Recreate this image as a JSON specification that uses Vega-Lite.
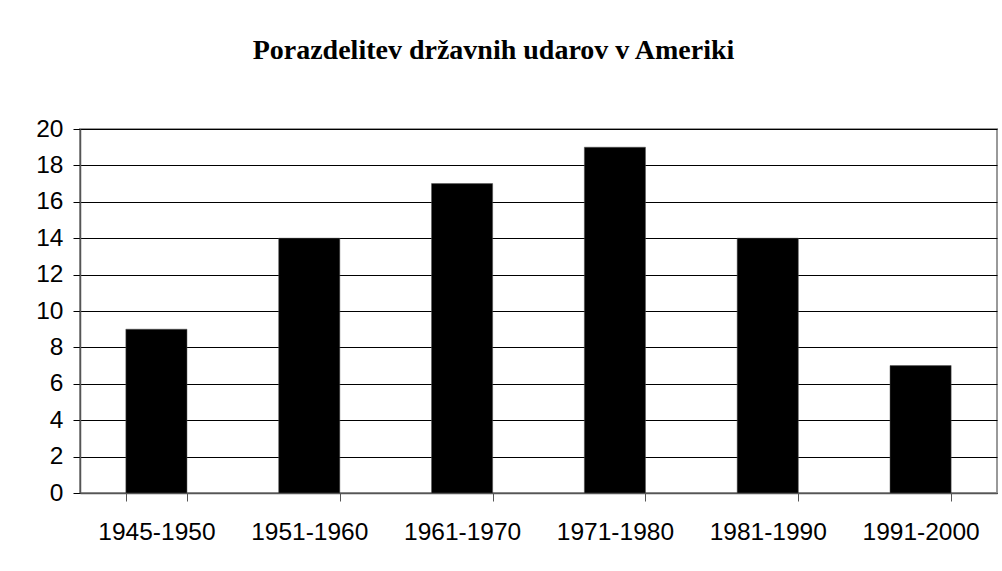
{
  "$schema": "https://vega.github.io/schema/vega-lite/v6.json",
  "width": 917,
  "height": 364,
  "autosize": {"type": "none"},
  "padding": {"left": 80, "top": 129, "right": 5, "bottom": 78},
  "background": "white",
  "title": {
    "text": "Porazdelitev državnih udarov v Ameriki",
    "font": "Liberation Serif",
    "fontSize": 28,
    "fontWeight": "bold",
    "color": "black",
    "anchor": "middle",
    "frame": "group",
    "baseline": "alphabetic",
    "offset": 29,
    "dx": -45
  },
  "data": {
    "values": [
      {"period": "1945-1950", "count": 9},
      {"period": "1951-1960", "count": 14},
      {"period": "1961-1970", "count": 17},
      {"period": "1971-1980", "count": 19},
      {"period": "1981-1990", "count": 14},
      {"period": "1991-2000", "count": 7}
    ]
  },
  "mark": {"type": "bar", "color": "black", "stroke": "#555555", "strokeWidth": 0.5},
  "encoding": {
    "x": {
      "field": "period",
      "type": "nominal",
      "sort": null,
      "scale": {"paddingInner": 0.6, "paddingOuter": 0.3},
      "axis": {
        "title": null,
        "labelAngle": 0,
        "labelFont": "Liberation Sans",
        "labelFontSize": 24.5,
        "labelColor": "black",
        "labelPadding": 19,
        "tickBand": "extent",
        "tickSize": 8,
        "tickColor": "#555555",
        "domainColor": "#555555",
        "grid": false
      }
    },
    "y": {
      "field": "count",
      "type": "quantitative",
      "scale": {"domain": [0, 20], "nice": false},
      "axis": {
        "title": null,
        "values": [0, 2, 4, 6, 8, 10, 12, 14, 16, 18, 20],
        "labelFont": "Liberation Sans",
        "labelFontSize": 24.5,
        "labelColor": "black",
        "labelPadding": 10,
        "tickSize": 7,
        "tickColor": "black",
        "domainColor": "#555555",
        "gridColor": "black",
        "gridOpacity": 1,
        "gridWidth": 1
      }
    }
  },
  "config": {
    "view": {"stroke": "#999999", "strokeWidth": 2},
    "axis": {"domainWidth": 1.5}
  }
}
